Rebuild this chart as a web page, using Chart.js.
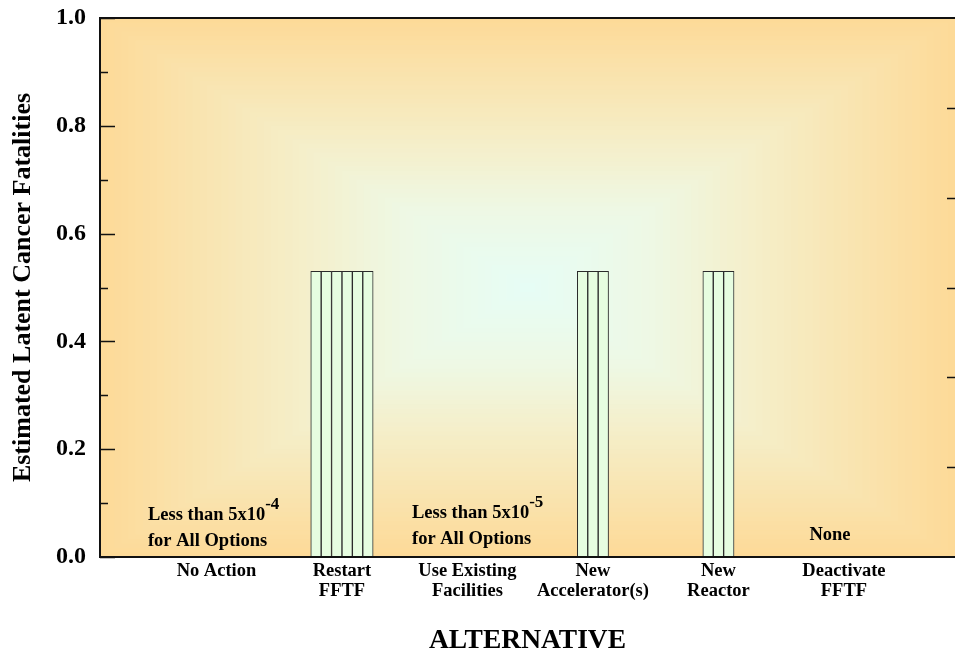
<!DOCTYPE html>
<html><head><meta charset="utf-8">
<script src="https://cdn.jsdelivr.net/npm/chart.js@4.4.1/dist/chart.umd.min.js"></script>
<style>html,body{margin:0;padding:0;background:#fff;}canvas{display:block;}</style>
</head><body>
<canvas id="c" width="956" height="652" style="width:956px;height:652px"></canvas>
<script>
// ---- data ----
const categories = ['No Action', 'Restart FFTF', 'Use Existing Facilities', 'New Accelerator(s)', 'New Reactor', 'Deactivate FFTF'];
const tickLabels = [['No Action'], ['Restart', 'FFTF'], ['Use Existing', 'Facilities'], ['New', 'Accelerator(s)'], ['New', 'Reactor'], ['Deactivate', 'FFTF']];
const option1 = [null, 0.53, null, 0.53, 0.53, null];
const option2 = [null, 0.53, null, 0.53, 0.53, null];
const option3 = [null, 0.53, null, 0.53, 0.53, null];
const option4 = [null, 0.53, null, null, null, null];
const option5 = [null, 0.53, null, null, null, null];
const option6 = [null, 0.53, null, null, null, null];
const yTicks = [0, 0.2, 0.4, 0.6, 0.8, 1.0];
const yMinorTicks = [0.1, 0.3, 0.5, 0.7, 0.9];
const rightTicks = [1/6, 2/6, 3/6, 4/6, 5/6];
const noteTexts = [
  [['Less than 5x10', '-4'], ['for All Options', '']],
  [['Less than 5x10', '-5'], ['for All Options', '']],
  [['None', '']]
];

// ---- presentation ----
const SERIF = "'Liberation Serif','Times New Roman',Times,serif";
const notePlacement = [
  {x: -0.546, y: [0.078, 0.030], align: 'left'},
  {x: 1.558, y: [0.0816, 0.0334], align: 'left'},
  {x: 4.889, y: [0.041], align: 'center'}
];

function mix(a, b, t) { return a.map((v, i) => Math.round(v + (b[i] - v) * t)); }
const gradStops = [[0, [230, 253, 246]], [0.3, [238, 248, 228]], [0.55, [245, 238, 200]], [1, [253, 218, 152]]];
function colorAt(t) {
  for (let i = 1; i < gradStops.length; i++) {
    if (t <= gradStops[i][0]) {
      const [t0, c0] = gradStops[i - 1], [t1, c1] = gradStops[i];
      const c = mix(c0, c1, (t - t0) / (t1 - t0));
      return `rgb(${c[0]},${c[1]},${c[2]})`;
    }
  }
  const c = gradStops[gradStops.length - 1][1];
  return `rgb(${c[0]},${c[1]},${c[2]})`;
}

const bgPlugin = {
  id: 'bg',
  beforeDraw(chart) {
    const {ctx, chartArea: a} = chart;
    const cx = (a.left + a.right) / 2, cy = (a.top + a.bottom) / 2;
    const hw = (a.right - a.left) / 2, hh = (a.bottom - a.top) / 2;
    const N = 60;
    ctx.save();
    for (let i = 0; i < N; i++) {
      const t = 1 - i / N;
      ctx.fillStyle = colorAt(t);
      ctx.fillRect(cx - hw * t, cy - hh * t, 2 * hw * t, 2 * hh * t);
    }
    ctx.restore();
  }
};

const framePlugin = {
  id: 'frame',
  afterDatasetsDraw(chart) {
    const {ctx, chartArea: a, scales} = chart;
    const y = scales.y, x = scales.x;
    ctx.save();
    ctx.strokeStyle = '#111';
    ctx.lineWidth = 2;
    ctx.beginPath();
    ctx.moveTo(a.left, a.top); ctx.lineTo(a.right, a.top);
    ctx.moveTo(a.left, a.top - 1); ctx.lineTo(a.left, a.bottom + 1);
    ctx.moveTo(a.left, a.bottom); ctx.lineTo(a.right, a.bottom);
    ctx.stroke();
    ctx.lineWidth = 1.5;
    ctx.beginPath();
    yTicks.forEach(v => { const py = Math.round(y.getPixelForValue(v)) + 0.5; ctx.moveTo(a.left, py); ctx.lineTo(a.left + 15, py); });
    yMinorTicks.forEach(v => { const py = Math.round(y.getPixelForValue(v)) + 0.5; ctx.moveTo(a.left, py); ctx.lineTo(a.left + 8, py); });
    rightTicks.forEach(v => { const py = Math.round(y.getPixelForValue(v)) + 0.5; ctx.moveTo(a.right - 8, py); ctx.lineTo(a.right, py); });
    ctx.stroke();

    ctx.fillStyle = '#000';
    ctx.textBaseline = 'middle';
    noteTexts.forEach((lines, k) => {
      const pl = notePlacement[k];
      const px = x.getPixelForValue(pl.x);
      lines.forEach((ln, j) => {
        const py = y.getPixelForValue(pl.y[j]);
        ctx.font = `bold 18.5px ${SERIF}`;
        const w = ctx.measureText(ln[0]).width;
        ctx.font = `bold 17px ${SERIF}`;
        const ws = ln[1] ? ctx.measureText(ln[1]).width : 0;
        let sx = pl.align === 'center' ? px - (w + ws) / 2 : px;
        ctx.textAlign = 'left';
        ctx.font = `bold 18.5px ${SERIF}`;
        ctx.fillText(ln[0], sx, py);
        if (ln[1]) {
          ctx.font = `bold 17px ${SERIF}`;
          ctx.fillText(ln[1], sx + w, py - 10);
        }
      });
    });
    ctx.restore();
  }
};

const series = [option1, option2, option3, option4, option5, option6];
const datasets = series.map((vals, k) => ({
  label: 'Option ' + (k + 1),
  data: vals.map((v, i) => ({x: i, y: v})),
  backgroundColor: '#e6fde0',
  borderColor: '#2a2a2a',
  borderWidth: 1,
  barThickness: 10.4,
  skipNull: true
}));

new Chart(document.getElementById('c'), {
  type: 'bar',
  data: {datasets},
  plugins: [bgPlugin, framePlugin],
  options: {
    responsive: false,
    devicePixelRatio: 1,
    animation: false,
    layout: {padding: {top: 18, right: 1, left: 0, bottom: 0}},
    plugins: {legend: {display: false}, tooltip: {enabled: false}},
    scales: {
      x: {
        type: 'linear',
        min: -0.928, max: 5.885,
        bounds: 'data',
        offset: false,
        afterBuildTicks: s => { s.ticks = categories.map((c, i) => ({value: i})); },
        ticks: {
          autoSkip: false, maxRotation: 0, minRotation: 0,
          callback: v => tickLabels[v],
          font: {family: SERIF, size: 18.5, weight: 'bold', lineHeight: 1.05},
          color: '#000', padding: 5
        },
        grid: {display: false, drawTicks: false},
        border: {display: false},
        title: {display: true, text: 'ALTERNATIVE', color: '#000', padding: 0,
          font: {family: SERIF, size: 27.5, weight: 'bold', lineHeight: 0.8}},
        afterFit: s => { s.height = 95; s.paddingLeft = 0; s.paddingRight = 0; }
      },
      y: {
        min: 0, max: 1,
        afterBuildTicks: s => { s.ticks = yTicks.map(v => ({value: v})); },
        ticks: {
          callback: v => Number(v).toFixed(1),
          font: {family: SERIF, size: 24, weight: 'bold'},
          color: '#000', padding: 14
        },
        grid: {display: false, drawTicks: false},
        border: {display: false},
        title: {display: true, text: 'Estimated Latent Cancer Fatalities', color: '#000',
          padding: {top: 10, bottom: 0},
          font: {family: SERIF, size: 26, weight: 'bold', lineHeight: 1}},
        afterFit: s => { s.width = 100; s.paddingTop = 0; s.paddingBottom = 0; }
      }
    }
  }
});
</script>
</body></html>
